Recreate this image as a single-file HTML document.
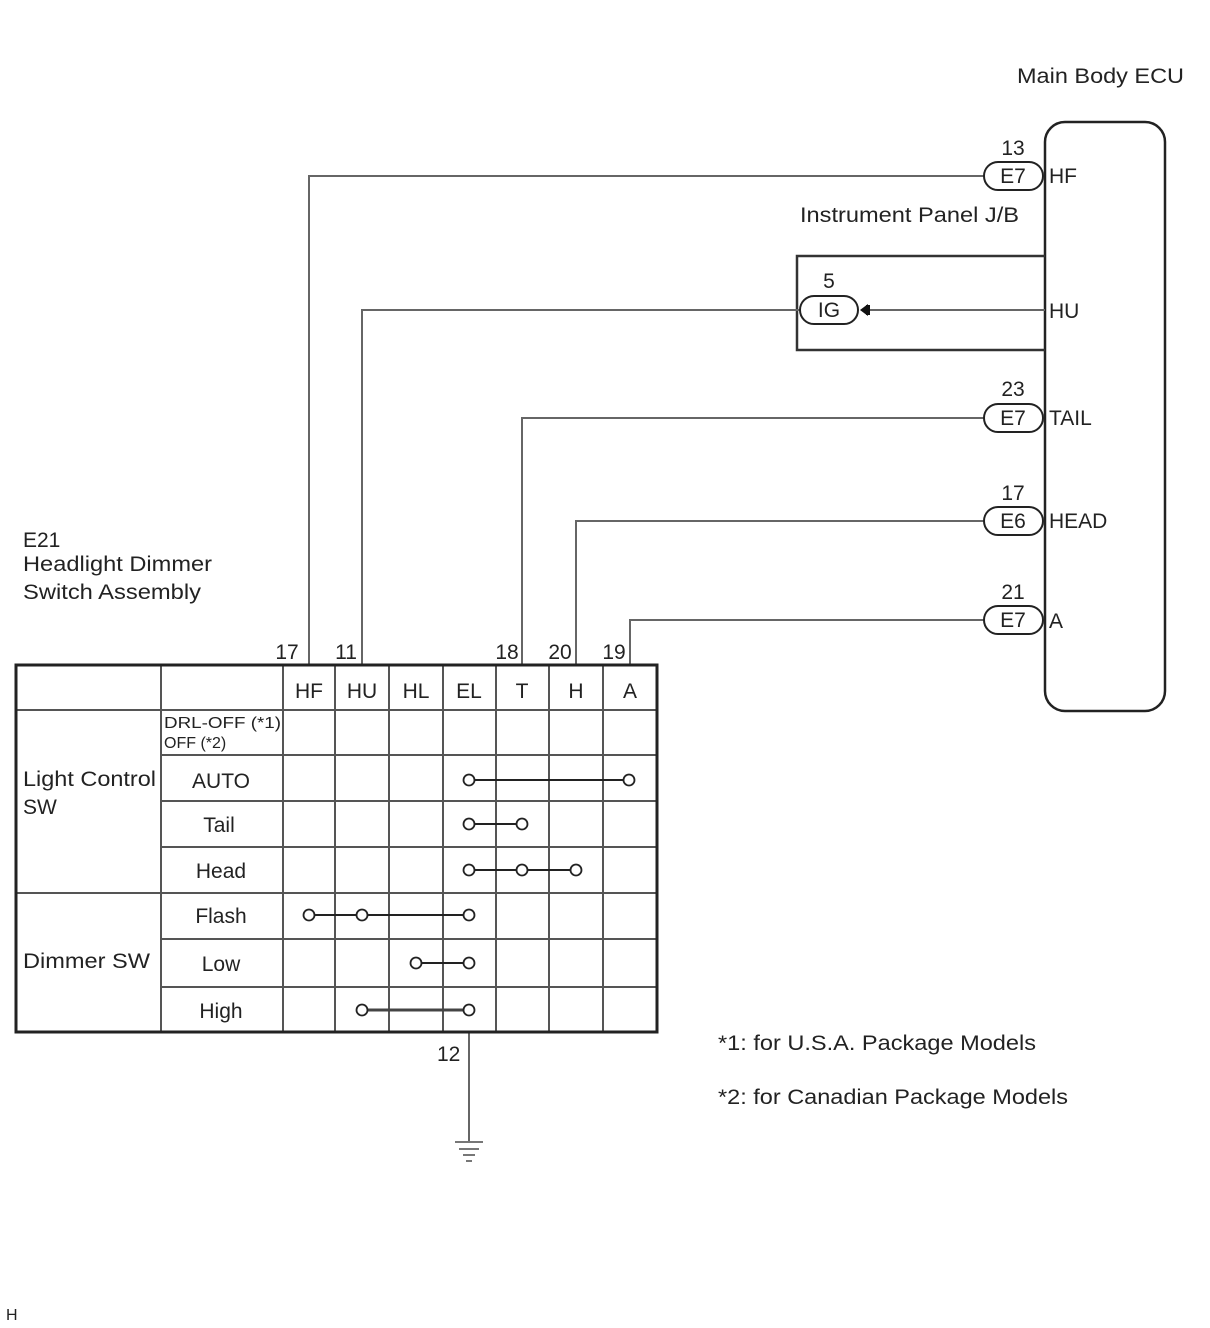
<!DOCTYPE html>
<html><head><meta charset="utf-8"><style>
html,body{margin:0;padding:0;background:#fff;}
svg{display:block;}
text{font-family:"Liberation Sans",Arial,sans-serif;fill:#222;}
</style></head><body>
<svg width="1210" height="1328" viewBox="0 0 1210 1328" xmlns="http://www.w3.org/2000/svg">
<g font-size="21" textLength="0">
<text x="1017" y="83" textLength="167" lengthAdjust="spacingAndGlyphs">Main Body ECU</text>
<text x="800" y="222" textLength="219" lengthAdjust="spacingAndGlyphs">Instrument Panel J/B</text>
<text x="23" y="547">E21</text>
<text x="23" y="571" textLength="189" lengthAdjust="spacingAndGlyphs">Headlight Dimmer</text>
<text x="23" y="599" textLength="178" lengthAdjust="spacingAndGlyphs">Switch Assembly</text>
<text x="718" y="1050" textLength="318" lengthAdjust="spacingAndGlyphs">*1: for U.S.A. Package Models</text>
<text x="718" y="1104" textLength="350" lengthAdjust="spacingAndGlyphs">*2: for Canadian Package Models</text>
</g>
<text x="6" y="1320" font-size="16">H</text>

<rect x="1045" y="122" width="120" height="589" rx="20" fill="none" stroke="#222" stroke-width="2.5"/>
<polyline points="1045,256 797,256 797,350 1045,350" fill="none" stroke="#333" stroke-width="2.5"/>

<g fill="none" stroke="#666" stroke-width="2">
<polyline points="309,665 309,176 985,176"/>
<polyline points="362,665 362,310 800,310"/>
<polyline points="522,665 522,418 985,418"/>
<polyline points="576,665 576,521 985,521"/>
<polyline points="630,665 630,620 985,620"/>
<line x1="866" y1="310" x2="1045" y2="310"/>
<line x1="469" y1="1032" x2="469" y2="1142"/>
</g>
<g stroke="#777" stroke-width="2">
<line x1="455" y1="1142" x2="483" y2="1142"/>
<line x1="459" y1="1149" x2="479" y2="1149"/>
<line x1="463" y1="1155" x2="475" y2="1155"/>
<line x1="466" y1="1161" x2="472" y2="1161"/>
</g>
<text x="437" y="1061" font-size="21">12</text>

<g fill="#fff" stroke="#222" stroke-width="2">
<rect x="984" y="162" width="59" height="28" rx="14"/>
<rect x="984" y="404" width="59" height="28" rx="14"/>
<rect x="984" y="507" width="59" height="28" rx="14"/>
<rect x="984" y="606" width="59" height="28" rx="14"/>
<rect x="800" y="296" width="58" height="28" rx="14"/>
</g>
<path d="M860,310 L868,304 L868,316 Z" fill="#111"/>
<rect x="866" y="305" width="4" height="10" fill="#111"/>
<g font-size="21" text-anchor="middle">
<text x="1013" y="183">E7</text><text x="1013" y="155">13</text>
<text x="1013" y="425">E7</text><text x="1013" y="396">23</text>
<text x="1013" y="528">E6</text><text x="1013" y="500">17</text>
<text x="1013" y="627">E7</text><text x="1013" y="599">21</text>
<text x="829" y="317">IG</text><text x="829" y="288">5</text>
</g>
<g font-size="21">
<text x="1049" y="183">HF</text>
<text x="1049" y="318">HU</text>
<text x="1049" y="425">TAIL</text>
<text x="1049" y="528">HEAD</text>
<text x="1049" y="628">A</text>
</g>
<g font-size="21" text-anchor="middle">
<text x="287" y="659">17</text>
<text x="346" y="659">11</text>
<text x="507" y="659">18</text>
<text x="560" y="659">20</text>
<text x="614" y="659">19</text>
</g>

<g stroke="#555" stroke-width="2" fill="none">
<line x1="16" y1="710" x2="657" y2="710"/>
<line x1="161" y1="755" x2="657" y2="755"/>
<line x1="161" y1="801" x2="657" y2="801"/>
<line x1="161" y1="847" x2="657" y2="847"/>
<line x1="16" y1="893" x2="657" y2="893"/>
<line x1="161" y1="939" x2="657" y2="939"/>
<line x1="161" y1="987" x2="657" y2="987"/>
<line x1="161" y1="665" x2="161" y2="1032"/>
<line x1="283" y1="665" x2="283" y2="1032"/>
<line x1="335" y1="665" x2="335" y2="1032"/>
<line x1="389" y1="665" x2="389" y2="1032"/>
<line x1="443" y1="665" x2="443" y2="1032"/>
<line x1="496" y1="665" x2="496" y2="1032"/>
<line x1="549" y1="665" x2="549" y2="1032"/>
<line x1="603" y1="665" x2="603" y2="1032"/>
</g>
<rect x="16" y="665" width="641" height="367" fill="none" stroke="#222" stroke-width="3"/>
<g font-size="21" text-anchor="middle">
<text x="309" y="698">HF</text><text x="362" y="698">HU</text><text x="416" y="698">HL</text>
<text x="469" y="698">EL</text><text x="522" y="698">T</text><text x="576" y="698">H</text><text x="630" y="698">A</text>
<text x="221" y="788">AUTO</text><text x="219" y="832">Tail</text><text x="221" y="878">Head</text>
<text x="221" y="923">Flash</text><text x="221" y="971">Low</text><text x="221" y="1018">High</text>
</g>
<g font-size="16"><text x="164" y="728" textLength="117" lengthAdjust="spacingAndGlyphs">DRL-OFF (*1)</text><text x="164" y="748">OFF (*2)</text></g>
<g font-size="21">
<text x="23" y="786" textLength="133" lengthAdjust="spacingAndGlyphs">Light Control</text><text x="23" y="814">SW</text>
<text x="23" y="968" textLength="127" lengthAdjust="spacingAndGlyphs">Dimmer SW</text>
</g>
<g stroke="#222" stroke-width="2">
<line x1="469" y1="780" x2="629" y2="780"/>
<line x1="469" y1="824" x2="522" y2="824"/>
<line x1="469" y1="870" x2="576" y2="870"/>
<line x1="309" y1="915" x2="469" y2="915"/>
<line x1="416" y1="963" x2="469" y2="963"/>
<line x1="362" y1="1010" x2="469" y2="1010" stroke-width="3" stroke="#444"/>
</g>
<g fill="#fff" stroke="#222" stroke-width="1.8">
<circle cx="469" cy="780" r="5.5"/><circle cx="629" cy="780" r="5.5"/>
<circle cx="469" cy="824" r="5.5"/><circle cx="522" cy="824" r="5.5"/>
<circle cx="469" cy="870" r="5.5"/><circle cx="522" cy="870" r="5.5"/><circle cx="576" cy="870" r="5.5"/>
<circle cx="309" cy="915" r="5.5"/><circle cx="362" cy="915" r="5.5"/><circle cx="469" cy="915" r="5.5"/>
<circle cx="416" cy="963" r="5.5"/><circle cx="469" cy="963" r="5.5"/>
<circle cx="362" cy="1010" r="5.5"/><circle cx="469" cy="1010" r="5.5"/>
</g>
</svg>
</body></html>
